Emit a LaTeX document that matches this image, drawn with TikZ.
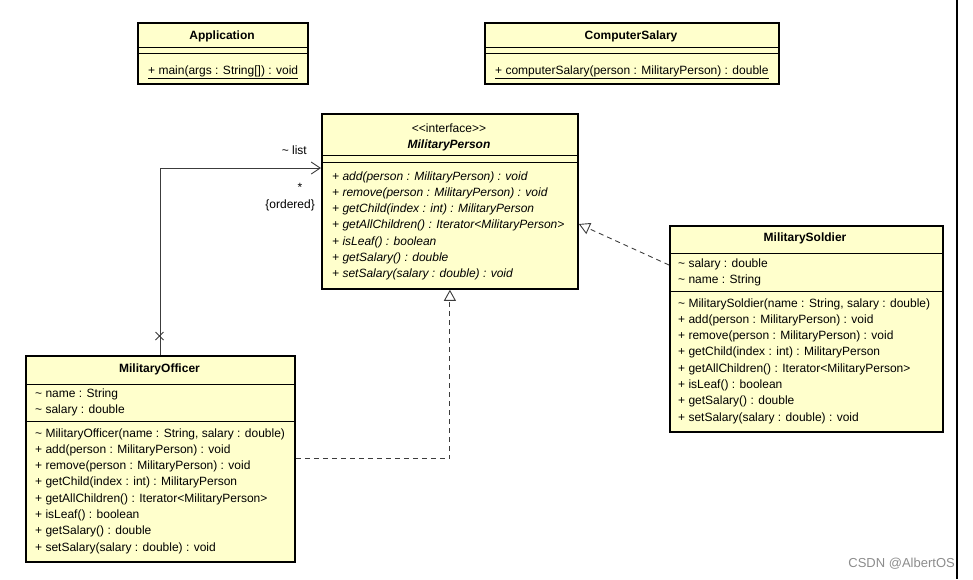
\documentclass[tikz,border=0pt]{standalone}
\usepackage{fontspec}
\setmainfont{Liberation Sans}
\usetikzlibrary{arrows.meta}
\definecolor{classfill}{RGB}{255,255,204}
\definecolor{linegray}{RGB}{60,60,60}

\begin{document}
\begin{tikzpicture}[x=1pt, y=-1pt]
\tikzstyle{every node} = [inner sep=0pt, font=\fontsize{12}{14}\selectfont]
\tikzstyle{classbox} = [draw, line width=1.8pt, fill=classfill, anchor=north west]
\tikzstyle{classname} = [font=\fontsize{12}{14}\selectfont\bfseries, anchor=base]
\tikzstyle{member} = [anchor=base west]
\tikzstyle{sep} = [line width=0.9pt]
\tikzstyle{realize} = [draw=linegray, line width=0.9pt, dash pattern=on 5pt off 4pt, -{Triangle[open, length=11pt, width=12pt]}]
\tikzstyle{assoc} = [draw=linegray, line width=0.9pt, -{Straight Barb[length=9pt, width=12pt]}]

\useasboundingbox (0,0) rectangle (973,579);

% Application
\node[classbox, minimum width=170pt, minimum height=61pt] (app) at (137,22) {};
\node[classname] (app-name) at (222,39) {Application};
\draw[sep] (137,47) -- (307,47);
\draw[sep] (137,53) -- (307,53);
\node[member] (app-op) at (148,74) {\underline{+ main(args : String[]) : void}};

% ComputerSalary
\node[classbox, minimum width=294pt, minimum height=61pt] (cs) at (484,22) {};
\node[classname] (cs-name) at (631,39) {ComputerSalary};
\draw[sep] (484,47) -- (778,47);
\draw[sep] (484,53) -- (778,53);
\node[member] (cs-op) at (495,74) {\underline{+ computerSalary(person : MilitaryPerson) : double}};

% MilitaryPerson (interface)
\node[classbox, minimum width=256pt, minimum height=175pt] (mp) at (321,113) {};
\node[anchor=base] (mp-stereo) at (449,132) {<{}<interface>{}>};
\node[classname, font=\fontsize{12}{14}\selectfont\bfseries\itshape] (mp-name) at (449,148) {MilitaryPerson};
\draw[sep] (321,155) -- (577,155);
\draw[sep] (321,162) -- (577,162);
\foreach \txt [count=\i] in {{+ add(person : MilitaryPerson) : void}, {+ remove(person : MilitaryPerson) : void},
  {+ getChild(index : int) : MilitaryPerson}, {+ getAllChildren() : Iterator<MilitaryPerson>},
  {+ isLeaf() : boolean}, {+ getSalary() : double}, {+ setSalary(salary : double) : void}}
  \node[member, font=\fontsize{12}{14}\selectfont\itshape] (mp-op\i) at (332,{163.7+16.3*\i}) {\txt};

% MilitarySoldier
\node[classbox, minimum width=273pt, minimum height=206pt] (sol) at (669,225) {};
\node[classname] (sol-name) at (805,241.5) {MilitarySoldier};
\draw[sep] (669,253) -- (942,253);
\foreach \txt [count=\i] in {{\textasciitilde{} salary : double}, {\textasciitilde{} name : String}}
  \node[member] (sol-attr\i) at (678,{251.2+16.3*\i}) {\txt};
\draw[sep] (669,291) -- (942,291);
\foreach \txt [count=\i] in {{\textasciitilde{} MilitarySoldier(name : String, salary : double)},
  {+ add(person : MilitaryPerson) : void}, {+ remove(person : MilitaryPerson) : void},
  {+ getChild(index : int) : MilitaryPerson}, {+ getAllChildren() : Iterator<MilitaryPerson>},
  {+ isLeaf() : boolean}, {+ getSalary() : double}, {+ setSalary(salary : double) : void}}
  \node[member] (sol-op\i) at (678,{290.7+16.3*\i}) {\txt};

% MilitaryOfficer
\node[classbox, minimum width=269pt, minimum height=206pt] (off) at (25,355) {};
\node[classname] (off-name) at (159.5,372.5) {MilitaryOfficer};
\draw[sep] (25,384) -- (294,384);
\foreach \txt [count=\i] in {{\textasciitilde{} name : String}, {\textasciitilde{} salary : double}}
  \node[member] (off-attr\i) at (35,{381.2+16.3*\i}) {\txt};
\draw[sep] (25,421) -- (294,421);
\foreach \txt [count=\i] in {{\textasciitilde{} MilitaryOfficer(name : String, salary : double)},
  {+ add(person : MilitaryPerson) : void}, {+ remove(person : MilitaryPerson) : void},
  {+ getChild(index : int) : MilitaryPerson}, {+ getAllChildren() : Iterator<MilitaryPerson>},
  {+ isLeaf() : boolean}, {+ getSalary() : double}, {+ setSalary(salary : double) : void}}
  \node[member] (off-op\i) at (35,{420.7+16.3*\i}) {\txt};

% association officer -> person
\draw[assoc] (off.north) |- ([yshift=-55pt]mp.north west);
\coordinate (offend) at (159.5,336);
\draw[draw=linegray, line width=0.9pt] (offend) +(-4,-4) -- +(4,4) (offend) +(-4,4) -- +(4,-4);
\node[anchor=base east] (list-role) at (307,154) {\textasciitilde{} list};
\node[anchor=base] (list-mult) at (300,191.5) {*};
\node[anchor=base east] (list-order) at (315,208) {\{ordered\}};

% realizations
\draw[realize] (off.east) -| (mp.south);
\draw[realize] ([yshift=-40pt]sol.north west) -- ([yshift=-111pt]mp.north east);

% screen edge and watermark
\draw[line width=1.4pt] (957,0) -- (957,579);
\node[anchor=base east, text=black!45, font=\fontsize{13}{15}\selectfont] (mark) at (955,567) {CSDN @AlbertOS};
\end{tikzpicture}
\end{document}
